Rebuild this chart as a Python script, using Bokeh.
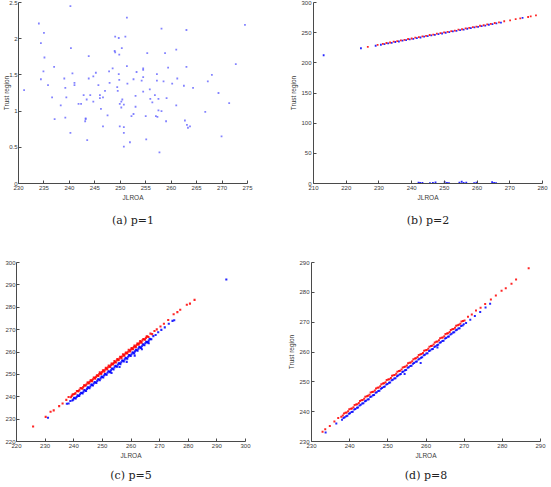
from bokeh.plotting import figure
from bokeh.models import Range1d, FixedTicker, Title
from bokeh.layouts import row, column
from bokeh.embed import file_html
from bokeh.resources import INLINE

# ---------------- (a) p=1 ----------------
a_x = [240.2, 234.0, 251.3, 235.0, 234.4, 274.5, 258.1, 263.0, 249.0, 251.0,
       249.7, 240.3, 250.3, 248.9, 249.0, 249.8, 255.3, 258.8, 261.0, 235.1,
       243.8, 272.7, 237.0, 251.3, 254.5, 254.5, 259.4, 263.0, 248.5, 234.9,
       247.8, 245.2, 240.6, 253.2, 249.7, 257.2, 268.0, 244.7, 239.0, 234.4,
       243.8, 254.5, 261.2, 252.6, 249.8, 257.2, 258.5, 254.2, 267.2, 241.0,
       247.9, 251.4, 260.2, 241.0, 235.8, 245.7, 262.5, 231.1, 239.2, 247.0,
       255.8, 249.4, 249.5, 264.3, 269.3, 254.5, 242.8, 244.1, 246.0, 243.4,
       246.0, 246.6, 256.8, 253.0, 236.6, 239.4, 250.4, 255.9, 257.5, 259.1,
       244.7, 250.2, 241.8, 242.3, 238.3, 249.9, 250.7, 256.3, 261.0, 271.4,
       253.0, 250.2, 246.2, 257.5, 258.1, 266.7, 252.6, 252.2, 247.5, 255.0,
       257.0, 257.3, 239.2, 243.2, 243.2, 237.1, 262.7, 259.0, 243.1, 263.1,
       263.7, 263.3, 246.6, 249.9, 250.7, 250.7, 240.2, 269.9, 255.1, 243.5,
       251.9, 250.7, 257.7]
a_y = [2.45, 2.21, 2.29, 2.08, 1.94, 2.19, 2.14, 2.12, 2.03, 2.03,
       2.01, 1.87, 1.87, 1.83, 1.81, 1.78, 1.80, 1.80, 1.85, 1.74,
       1.76, 1.65, 1.61, 1.62, 1.59, 1.57, 1.60, 1.61, 1.59, 1.55,
       1.55, 1.53, 1.52, 1.54, 1.51, 1.51, 1.50, 1.48, 1.45, 1.44,
       1.45, 1.47, 1.45, 1.44, 1.43, 1.42, 1.41, 1.42, 1.41, 1.39,
       1.39, 1.38, 1.38, 1.36, 1.36, 1.36, 1.35, 1.29, 1.32, 1.28,
       1.30, 1.33, 1.28, 1.32, 1.25, 1.27, 1.22, 1.22, 1.22, 1.16,
       1.18, 1.19, 1.22, 1.21, 1.19, 1.19, 1.16, 1.17, 1.17, 1.18,
       1.13, 1.13, 1.10, 1.10, 1.08, 1.10, 1.09, 1.12, 1.08, 1.11,
       1.06, 1.05, 1.03, 1.01, 1.00, 0.99, 0.96, 0.93, 0.94, 0.93,
       0.93, 0.92, 0.91, 0.90, 0.89, 0.89, 0.87, 0.86, 0.86, 0.81,
       0.79, 0.77, 0.79, 0.79, 0.78, 0.70, 0.70, 0.65, 0.61, 0.60,
       0.57, 0.51, 0.43]
a_xticks = [230, 235, 240, 245, 250, 255, 260, 265, 270, 275]
a_yticks = [0, 0.5, 1, 1.5, 2, 2.5]
a_ylabels = ["0", "0.5", "1", "1.5", "2", "2.5"]

# ---------------- (b) p=2 ----------------
b_red_x = [226.6, 229.6, 231.2, 232.3, 233.4, 234.5, 235.6, 236.7, 237.8, 238.9,
           240.0, 241.1, 242.2, 243.3, 244.4, 245.5, 246.6, 247.7, 248.8, 249.9,
           251.0, 252.1, 253.2, 254.3, 255.4, 256.5, 257.6, 258.7, 259.8, 260.9,
           262.0, 263.1, 264.2, 265.4, 266.7, 268.3, 270.1, 271.8, 273.2, 275.6,
           276.4, 278.0]
b_red_y = [226.4, 229.8, 231.5, 232.9, 233.7, 235.1, 235.9, 237.3, 238.1, 239.5,
           240.3, 241.7, 242.5, 243.9, 244.7, 246.1, 246.9, 248.3, 249.1, 250.5,
           251.3, 252.7, 253.5, 254.9, 255.7, 257.1, 257.9, 259.3, 260.1, 261.5,
           262.3, 263.7, 264.5, 266.0, 267.0, 268.9, 270.4, 272.3, 273.6, 276.0,
           276.9, 278.6]
b_blue_x = [213.1, 224.5, 229.0, 230.6, 231.7, 232.8, 233.9, 235.0, 236.1, 237.2,
            238.3, 239.4, 240.5, 241.6, 242.7, 243.8, 244.9, 246.0, 247.1, 248.2,
            249.3, 250.4, 251.5, 252.6, 253.7, 254.8, 255.9, 257.0, 258.1, 259.2,
            260.3, 261.4, 262.5, 263.6, 264.7, 265.9, 267.3, 273.9,
            242.1, 242.6, 243.3, 245.6, 246.5, 247.3, 250.1, 250.8, 251.4, 254.6,
            255.3, 255.9, 256.7, 259.1, 259.8, 264.6, 265.2, 265.8]
b_blue_y = [212.6, 224.2, 228.3, 230.0, 231.0, 232.3, 233.2, 234.5, 235.4, 236.7,
            237.6, 238.9, 239.8, 241.1, 242.0, 243.3, 244.2, 245.5, 246.4, 247.7,
            248.6, 249.9, 250.8, 252.1, 253.0, 254.3, 255.2, 256.5, 257.4, 258.7,
            259.6, 260.9, 261.8, 263.1, 264.0, 265.3, 266.6, 274.6,
            1.5, 0.8, 1.2, 0.5, 1.0, 1.8, 2.4, 1.1, 0.6, 1.6,
            2.9, 0.9, 1.3, 0.7, 1.4, 2.2, 1.0, 0.6]
b_xticks = [210, 220, 230, 240, 250, 260, 270, 280]
b_yticks = [0, 50, 100, 150, 200, 250, 300]

# ---------------- (c) p=5 ----------------
c_red_x = [225.8, 230.2, 231.9, 233.0, 234.9, 236.1, 237.4, 238.2, 239.0, 239.6,
           240.3, 241.1, 241.7, 242.4, 243.0, 243.6, 244.2, 244.8, 245.3, 245.9,
           246.4, 247.0, 247.5, 248.1, 248.6, 249.1, 249.6, 250.2, 250.7, 251.2,
           251.7, 252.2, 252.7, 253.2, 253.7, 254.2, 254.7, 255.2, 255.7, 256.2,
           256.7, 257.2, 257.7, 258.2, 258.7, 259.2, 259.7, 260.2, 260.7, 261.2,
           261.7, 262.2, 262.7, 263.2, 263.7, 264.3, 264.9, 265.5, 266.1, 266.8,
           267.4, 268.2, 269.0, 270.3, 271.5, 273.0, 274.9, 276.2, 277.2, 279.5,
           280.6, 282.2]
c_red_y = [226.7, 231.0, 233.3, 233.9, 235.8, 237.0, 238.6, 239.9, 239.8, 241.0,
           241.2, 242.6, 242.5, 243.9, 243.6, 245.1, 245.0, 246.4, 245.9, 247.3,
           247.0, 248.6, 248.1, 249.6, 249.3, 250.9, 250.2, 251.8, 251.2, 252.9,
           252.3, 254.0, 253.3, 254.8, 254.4, 256.0, 255.3, 256.9, 256.3, 257.9,
           257.2, 259.0, 258.4, 259.8, 259.3, 261.0, 260.3, 261.8, 261.2, 262.9,
           262.2, 263.8, 263.3, 264.9, 264.2, 265.8, 265.5, 267.0, 266.7, 268.2,
           268.0, 269.4, 270.1, 271.4, 272.6, 274.3, 276.9, 277.8, 278.9, 281.1,
           281.6, 283.3]
c_red_x2 = [239.3, 239.9, 240.6, 241.4, 242.0, 242.7, 243.3, 243.9, 244.5, 245.1,
            245.6, 246.2, 246.7, 247.3, 247.8, 248.4, 248.9, 249.4, 249.9, 250.5,
            251.0, 251.5, 252.0, 252.5, 253.0, 253.5, 254.0, 254.5, 255.0, 255.5,
            256.0, 256.5, 257.0, 257.5, 258.0, 258.5, 259.0, 259.5, 260.0, 260.5,
            261.0, 261.5, 262.0, 262.5, 263.0, 263.5, 264.0, 264.6, 265.2, 265.8]
c_red_y2 = [240.4, 241.1, 241.6, 242.5, 243.1, 243.8, 244.3, 245.0, 245.6, 246.3,
            246.7, 247.3, 247.8, 248.5, 248.9, 249.5, 250.1, 250.5, 251.0, 251.7,
            252.1, 252.6, 253.2, 253.6, 254.1, 254.7, 255.1, 255.6, 256.2, 256.6,
            257.1, 257.7, 258.1, 258.6, 259.2, 259.6, 260.1, 260.7, 261.1, 261.6,
            262.2, 262.6, 263.1, 263.7, 264.1, 264.6, 265.2, 265.7, 266.3, 266.9]
c_blue_x = [231.0, 237.6, 238.2, 238.8, 239.5, 240.1, 240.7, 241.3, 241.9, 242.5,
            243.1, 243.7, 244.3, 244.9, 245.5, 246.1, 246.7, 247.3, 247.9, 248.5,
            249.1, 249.7, 250.3, 250.9, 251.5, 252.1, 252.7, 253.3, 253.9, 254.5,
            255.1, 255.7, 256.3, 256.9, 257.5, 258.1, 258.7, 259.3, 259.9, 260.5,
            261.1, 261.7, 262.3, 262.9, 263.5, 264.1, 264.7, 265.3, 265.9, 266.5,
            267.1, 267.8, 268.6, 269.5, 270.6, 271.8, 273.2, 274.5, 275.1, 293.3]
c_blue_y = [230.6, 236.9, 237.0, 238.1, 238.3, 239.5, 239.2, 240.6, 240.4, 241.8,
            241.5, 243.0, 242.6, 244.2, 243.8, 245.4, 245.0, 246.6, 246.2, 247.8,
            247.4, 249.0, 248.6, 250.2, 249.8, 251.4, 251.0, 252.6, 252.2, 253.8,
            253.4, 255.0, 254.6, 256.2, 255.8, 257.4, 257.0, 258.6, 258.2, 259.8,
            259.4, 261.0, 260.6, 262.2, 261.8, 263.4, 263.0, 264.6, 264.3, 265.9,
            265.7, 267.1, 267.6, 268.8, 269.9, 271.0, 272.6, 273.9, 274.2, 292.4]
c_blue_x2 = [239.8, 240.4, 241.0, 241.6, 242.2, 242.8, 243.4, 244.0, 244.6, 245.2,
             245.8, 246.4, 247.0, 247.6, 248.2, 248.8, 249.4, 250.0, 250.6, 251.2,
             251.8, 252.4, 253.0, 253.6, 254.2, 254.8, 255.4, 256.0, 256.6, 257.2,
             257.8, 258.4, 259.0, 259.6, 260.2, 260.8, 261.4, 262.0, 262.6, 263.2,
             263.8, 264.4, 265.0, 265.6, 266.2, 266.8,
             258.5, 261.3, 263.8, 256.0, 266.2, 253.2]
c_blue_y2 = [238.7, 239.3, 239.9, 240.4, 241.1, 241.7, 242.3, 242.8, 243.5, 244.1,
             244.6, 245.3, 245.9, 246.4, 247.1, 247.7, 248.2, 248.9, 249.5, 250.0,
             250.7, 251.3, 251.8, 252.5, 253.1, 253.6, 254.3, 254.9, 255.4, 256.1,
             256.7, 257.2, 257.9, 258.5, 259.0, 259.7, 260.3, 260.8, 261.5, 262.1,
             262.6, 263.3, 263.9, 264.4, 265.1, 265.7,
             255.6, 258.4, 261.2, 253.3, 263.9, 250.6]
c_xticks = [220, 230, 240, 250, 260, 270, 280, 290, 300]
c_yticks = [220, 230, 240, 250, 260, 270, 280, 290, 300]

# ---------------- (d) p=8 ----------------
d_red_x = [232.9, 233.6, 234.8, 236.0, 237.0, 237.8, 238.5, 239.2, 239.9, 240.6,
           241.3, 242.0, 242.7, 243.4, 244.1, 244.8, 245.5, 246.2, 246.9, 247.6,
           248.3, 249.0, 249.7, 250.4, 251.1, 251.8, 252.5, 253.2, 253.9, 254.6,
           255.3, 256.0, 256.7, 257.4, 258.1, 258.8, 259.5, 260.2, 260.9, 261.6,
           262.3, 263.0, 263.7, 264.4, 265.1, 265.8, 266.5, 267.2, 267.9, 268.6,
           269.3, 270.1, 271.0, 272.0, 273.1, 274.3, 275.5, 277.0, 278.3, 279.8,
           280.9, 282.4, 283.6, 286.9]
d_red_y = [233.3, 234.1, 235.2, 236.7, 237.9, 238.3, 239.4, 239.7, 240.8, 241.1,
           242.2, 242.5, 243.6, 243.9, 245.0, 245.3, 246.4, 246.7, 247.8, 248.1,
           249.2, 249.5, 250.6, 250.9, 252.0, 252.3, 253.4, 253.7, 254.8, 255.1,
           256.2, 256.5, 257.6, 257.9, 259.0, 259.3, 260.4, 260.7, 261.8, 262.1,
           263.2, 263.5, 264.6, 264.9, 266.0, 266.3, 267.4, 267.7, 268.8, 269.1,
           270.2, 270.6, 271.8, 272.6, 273.9, 274.8, 276.1, 277.6, 278.9, 280.5,
           281.4, 282.9, 284.3, 288.1]
d_red_x2 = [238.2, 238.9, 239.6, 240.3, 241.0, 241.7, 242.4, 243.1, 243.8, 244.5,
            245.2, 245.9, 246.6, 247.3, 248.0, 248.7, 249.4, 250.1, 250.8, 251.5,
            252.2, 252.9, 253.6, 254.3, 255.0, 255.7, 256.4, 257.1, 257.8, 258.5,
            259.2, 259.9, 260.6, 261.3, 262.0, 262.7, 263.4, 264.1, 264.8, 265.5,
            266.2, 266.9, 267.6, 268.3, 269.0, 269.7]
d_red_y2 = [238.7, 239.6, 240.1, 241.0, 241.5, 242.4, 242.9, 243.8, 244.3, 245.2,
            245.7, 246.6, 247.1, 248.0, 248.5, 249.4, 249.9, 250.8, 251.3, 252.2,
            252.7, 253.6, 254.1, 255.0, 255.5, 256.4, 256.9, 257.8, 258.3, 259.2,
            259.7, 260.6, 261.1, 262.0, 262.5, 263.4, 263.9, 264.8, 265.3, 266.2,
            266.7, 267.6, 268.1, 269.0, 269.5, 270.4]
d_blue_x = [233.7, 236.5, 238.0, 238.7, 239.4, 240.1, 240.8, 241.5, 242.2, 242.9,
            243.6, 244.3, 245.0, 245.7, 246.4, 247.1, 247.8, 248.5, 249.2, 249.9,
            250.6, 251.3, 252.0, 252.7, 253.4, 254.1, 254.8, 255.5, 256.2, 256.9,
            257.6, 258.3, 259.0, 259.7, 260.4, 261.1, 261.8, 262.5, 263.2, 263.9,
            264.6, 265.3, 266.0, 266.7, 267.4, 268.1, 268.8, 269.6, 270.5, 271.6,
            272.8, 274.2, 275.6, 276.8]
d_blue_y = [233.0, 236.0, 237.3, 238.1, 238.6, 239.5, 240.0, 240.9, 241.4, 242.3,
            242.8, 243.7, 244.2, 245.1, 245.6, 246.5, 247.0, 247.9, 248.4, 249.3,
            249.8, 250.7, 251.2, 252.1, 252.6, 253.5, 254.0, 254.9, 255.4, 256.3,
            256.8, 257.7, 258.2, 259.1, 259.6, 260.5, 261.0, 261.9, 262.4, 263.3,
            263.8, 264.7, 265.2, 266.1, 266.6, 267.5, 268.0, 268.9, 269.7, 270.8,
            272.1, 273.4, 274.9, 276.2]
d_blue_x2 = [238.4, 239.1, 239.8, 240.5, 241.2, 241.9, 242.6, 243.3, 244.0, 244.7,
             245.4, 246.1, 246.8, 247.5, 248.2, 248.9, 249.6, 250.3, 251.0, 251.7,
             252.4, 253.1, 253.8, 254.5, 255.2, 255.9, 256.6, 257.3, 258.0, 258.7,
             259.4, 260.1, 260.8, 261.5, 262.2, 262.9, 263.6, 264.3, 265.0, 265.7,
             266.4, 267.1, 267.8, 268.5, 269.2, 269.9,
             258.6, 254.4, 263.0]
d_blue_y2 = [237.9, 238.5, 239.3, 239.9, 240.7, 241.3, 242.1, 242.7, 243.5, 244.1,
             244.9, 245.5, 246.3, 246.9, 247.7, 248.3, 249.1, 249.7, 250.5, 251.1,
             251.9, 252.5, 253.3, 253.9, 254.7, 255.3, 256.1, 256.7, 257.5, 258.1,
             258.9, 259.5, 260.3, 260.9, 261.7, 262.3, 263.1, 263.7, 264.5, 265.1,
             265.9, 266.5, 267.3, 267.9, 268.7, 269.3,
             256.3, 252.6, 261.5]
d_xticks = [230, 240, 250, 260, 270, 280, 290]
d_yticks = [230, 240, 250, 260, 270, 280, 290]

XLABEL = "JLROA"
YLABEL = "Trust region"
captions = ["(a) p=1", "(b) p=2", "(c) p=5", "(d) p=8"]

AX_COL = "#4a4a4a"
TXT_COL = "#3a3a3a"
CAP_FONT = "DejaVu Serif"


def make_panel(w, h, xr, yr, xticks, yticks, borders, ylabel=True,
               ylabels=None, lab_so=2, axlab_so=1):
    p = figure(width=w, height=h, output_backend="svg", toolbar_location=None,
               title=None, x_range=Range1d(*xr), y_range=Range1d(*yr),
               min_border_left=borders[0], min_border_right=borders[1],
               min_border_top=borders[2], min_border_bottom=borders[3])
    p.outline_line_color = None
    p.background_fill_color = "white"
    p.border_fill_color = "white"
    p.xgrid.visible = False
    p.ygrid.visible = False
    for ax in (p.xaxis[0], p.yaxis[0]):
        ax.axis_line_color = AX_COL
        ax.axis_line_width = 1
        ax.major_tick_line_color = AX_COL
        ax.major_tick_in = 3
        ax.major_tick_out = 0
        ax.minor_tick_line_color = None
        ax.major_label_text_font = "Liberation Sans"
        ax.major_label_text_font_size = "6px"
        ax.major_label_text_color = TXT_COL
        ax.axis_label_text_font = "Liberation Sans"
        ax.axis_label_text_font_size = "6.5px"
        ax.axis_label_text_font_style = "normal"
        ax.axis_label_text_color = TXT_COL
        ax.major_label_standoff = 2
        ax.axis_label_standoff = 1
    p.yaxis.major_label_standoff = lab_so
    p.yaxis.axis_label_standoff = axlab_so
    p.xaxis.ticker = FixedTicker(ticks=xticks)
    p.yaxis.ticker = FixedTicker(ticks=yticks)
    if ylabels is not None:
        p.yaxis.major_label_overrides = {t: l for t, l in zip(yticks, ylabels)}
    p.xaxis.axis_label = XLABEL
    if ylabel:
        p.yaxis.axis_label = YLABEL
    return p


def caption_title(p, text, offset, standoff):
    t = Title(text=text, align="center", text_font=CAP_FONT,
              text_font_size="11px", text_font_style="normal",
              text_color="#222222", standoff=standoff, offset=offset)
    p.add_layout(t, "below")


def dots(p, xs, ys, color, size=1.8, alpha=0.85):
    p.scatter(xs, ys, marker="square", size=size, color=color, alpha=alpha,
              line_color=None)


pa = make_panel(275, 240, (230, 275), (0, 2.5), a_xticks, a_yticks,
                (17, 28, 2, 57), ylabel=True, ylabels=a_ylabels,
                lab_so=1, axlab_so=-4)
caption_title(pa, captions[0], -5, 16)
dots(pa, a_x, a_y, "#5a5aff", 1.8, 0.75)

pb = make_panel(276, 240, (210, 280), (0, 300), b_xticks, b_yticks,
                (38, 9, 2, 57))
caption_title(pb, captions[1], 0, 16)
dots(pb, b_blue_x, b_blue_y, "#0000ff")
dots(pb, b_red_x, b_red_y, "#ff0000")

pc = make_panel(275, 247, (220, 300), (220, 300), c_xticks, c_yticks,
                (16, 30, 22, 43), ylabel=False, lab_so=1)
caption_title(pc, captions[2], -4, 11)
dots(pc, c_blue_x, c_blue_y, "#0000ff", 2.1)
dots(pc, c_blue_x2, c_blue_y2, "#0000ff", 2.1)
dots(pc, c_red_x, c_red_y, "#ff0000", 2.1)
dots(pc, c_red_x2, c_red_y2, "#ff0000", 2.1)

pd = make_panel(276, 247, (230, 290), (230, 290), d_xticks, d_yticks,
                (36, 11, 22, 44))
caption_title(pd, captions[3], 0, 11)
dots(pd, d_blue_x, d_blue_y, "#0000ff", 2.0)
dots(pd, d_blue_x2, d_blue_y2, "#0000ff", 2.0)
dots(pd, d_red_x, d_red_y, "#ff0000", 2.0)
dots(pd, d_red_x2, d_red_y2, "#ff0000", 2.0)

layout = column(row(pa, pb), row(pc, pd))
open("out.html", "w").write(file_html(layout, INLINE))
